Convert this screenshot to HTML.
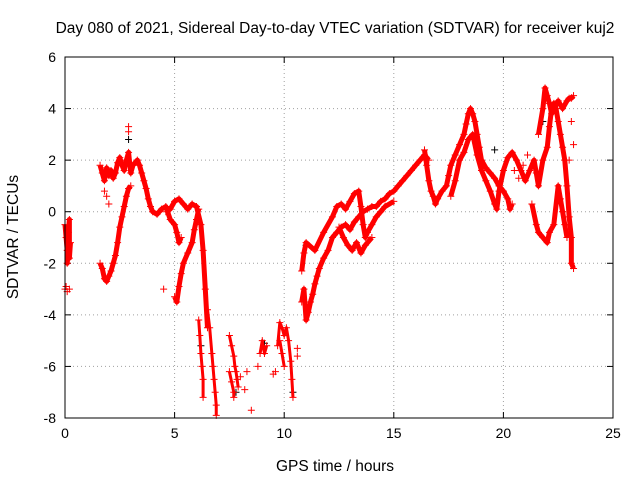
<!DOCTYPE html>
<html><head><meta charset="utf-8"><style>
body{margin:0;background:#fff;}
svg{display:block;font-family:"Liberation Sans",sans-serif;}
</style></head><body>
<svg id="chart" width="640" height="480">
<text x="335" y="33" font-size="15.5" text-anchor="middle">Day 080 of 2021, Sidereal Day-to-day VTEC variation (SDTVAR) for receiver kuj2</text>
<text x="335" y="471" font-size="15.5" text-anchor="middle">GPS time / hours</text>
<text transform="translate(18,237) rotate(-90)" font-size="15.5" text-anchor="middle">SDTVAR / TECUs</text>
<g id="grid"></g><g id="ticks"></g><g id="marks"></g>
<rect x="65" y="57" width="548" height="361" fill="none" stroke="#000" stroke-width="1"/>
</svg>
<script>
const xTicks=[0,5,10,15,20,25];
const yTicks=[6,4,2,0,-2,-4,-6,-8];
const trackA=[[0,-0.5],[0.05,-1],[0.1,-1.5],[0.1,-2],[0.15,-0.8],[0.2,-0.3],[0.2,-1.8],[0.25,-1.2]];
const trackA2=[[0,-3],[0.05,-2.9],[0.1,-3.1],[0.2,-3.0]];
const trackB=[[1.6,1.8],[1.7,1.5],[1.8,1.2],[1.9,1.7],[2.0,1.4],[2.1,1.6],[2.2,1.3],[2.3,1.5],[2.4,1.9],[2.5,2.1],[2.6,1.8],[2.7,1.6],[2.8,2.0],[2.9,2.3],[3.0,1.5],[3.1,1.8],[3.3,2.0],[3.4,1.8],[3.5,1.5],[3.6,1.2],[3.7,0.9],[3.8,0.5],[3.9,0.2],[4.0,0],[4.2,-0.1],[4.4,0.1],[4.6,0.2],[4.8,-0.3],[5.0,-0.5],[5.1,-0.8],[5.2,-1.2],[5.3,-1.0]];
const trackB2=[[1.8,0.8],[1.9,0.6],[2.0,0.3],[2.9,3.1],[2.9,3.3],[4.5,-3.0]];
const trackC=[[1.6,-2.0],[1.7,-2.2],[1.8,-2.6],[1.9,-2.7],[2.0,-2.5],[2.1,-2.3],[2.2,-2.0],[2.3,-1.7],[2.4,-1.2],[2.5,-0.6],[2.6,-0.2],[2.7,0.2],[2.8,0.6],[2.9,0.9],[3.0,1.0]];
const trackD=[[4.6,0],[4.8,0.1],[5.0,0.4],[5.2,0.5],[5.4,0.3],[5.6,0.1],[5.8,0.3],[6.0,0.2],[6.2,-0.5],[6.3,-1.5],[6.4,-3],[6.5,-4.5]];
const trackE=[[5.0,-3.3],[5.1,-3.5],[5.2,-2.9],[5.3,-2.4],[5.4,-2.0],[5.6,-1.6],[5.8,-1.2],[5.9,-0.7],[6.0,-0.3],[6.1,0.1]];
const trackF1=[[6.1,-4.2],[6.15,-4.8],[6.2,-5.5],[6.25,-6.0],[6.3,-6.5],[6.3,-7.2]];
const trackF2=[[6.5,-3.8],[6.6,-4.5],[6.7,-5.5],[6.75,-6.0],[6.8,-6.5],[6.85,-7.0],[6.9,-7.5],[6.9,-7.9]];
const trackG1=[[7.5,-4.8],[7.6,-5.2],[7.7,-5.6],[7.75,-6.0],[7.8,-6.2],[7.85,-6.5],[7.9,-6.8]];
const trackG2=[[7.5,-6.2],[7.6,-6.6],[7.7,-7.0],[7.7,-7.2]];
const trackG=[[8.0,-6.4],[8.2,-6.9],[8.3,-6.2],[8.5,-7.7],[8.8,-6.0],[9.5,-6.3],[9.6,-6.2],[10.6,-5.3],[10.6,-5.6]];
const trackG3=[[8.9,-5.5],[9.0,-5.0],[9.1,-5.5],[9.2,-5.2]];
const trackG4=[[9.7,-5.2],[9.8,-4.3],[9.9,-4.5],[10.0,-4.8],[10.1,-4.5],[10.2,-5.0],[10.3,-5.8],[10.35,-6.5],[10.4,-7.2]];
const trackG5=[[9.8,-5.0],[9.9,-5.5],[10.0,-6.0]];
const trackH=[[10.8,-3.5],[10.9,-3.0],[11.0,-4.2],[11.1,-3.9],[11.2,-3.5],[11.3,-3.2],[11.4,-2.8],[11.5,-2.5],[11.6,-2.2],[11.8,-1.8],[12.0,-1.5],[12.2,-1.0],[12.4,-0.8],[12.6,-0.6],[12.8,-0.5],[13.0,-0.7],[13.2,-0.4],[13.4,-0.2],[13.6,0],[13.8,0.1],[14.0,0.2],[14.2,0.2],[14.4,0.4],[14.6,0.5],[14.8,0.7],[15.0,0.8],[15.2,1.0],[15.4,1.2],[15.6,1.4],[15.8,1.6],[16.0,1.8],[16.2,2.0],[16.4,2.2],[16.6,2.0]];
const trackI=[[10.8,-2.3],[10.9,-1.6],[11.0,-1.2],[11.4,-1.5],[11.8,-0.8],[12.2,-0.2],[12.4,0.2],[12.6,0.3],[12.8,0.1],[13.0,0.4],[13.2,0.7],[13.4,0.8],[13.5,0.2],[13.6,-0.5],[13.7,-1.0],[13.8,-0.8],[14.0,-0.5],[14.2,-0.2],[14.4,0],[14.6,0.2],[15.0,0.4]];
const trackJ=[[12.5,-0.6],[12.7,-1.0],[12.9,-1.3],[13.1,-1.5],[13.3,-1.2],[13.5,-1.6],[13.7,-1.3],[14.0,-1.0]];
const trackK=[[16.4,2.4],[16.5,1.8],[16.6,1.2],[16.7,0.8],[16.8,0.6],[16.9,0.3],[17.0,0.5],[17.2,0.8],[17.4,1.0],[17.5,1.4],[17.6,1.8],[17.8,2.2],[18.0,2.6],[18.2,3.0],[18.3,3.4],[18.4,3.8],[18.5,4.0],[18.6,3.8],[18.7,3.5],[18.8,3.0],[18.9,2.5],[19.0,2.0],[19.2,1.7],[19.4,1.5],[19.6,1.3],[19.8,1.0],[20.0,0.8],[20.2,0.5],[20.3,0.1],[20.4,0.3]];
const trackL=[[17.6,0.6],[17.8,1.2],[18.0,2.0],[18.2,2.3],[18.4,2.8],[18.6,3.0],[18.8,2.2],[19.0,1.6],[19.2,1.2],[19.4,0.8],[19.6,0.3],[19.7,0.1],[19.8,0.8],[20.0,1.6],[20.2,2.1],[20.4,2.3],[20.6,2.0],[20.8,1.6],[21.0,1.2],[21.2,1.6],[21.4,2.0],[21.5,1.5],[21.6,1.0],[21.8,2.0],[22.0,2.5],[22.1,3.3],[22.2,4.0],[22.3,4.2],[22.4,4.0],[22.5,3.5],[22.6,3.0],[22.7,2.5],[22.8,2.0],[22.9,1.0],[23.0,-0.2],[23.1,-1.0],[23.1,-2.0],[23.2,-2.2]];
const trackM=[[21.6,3.0],[21.8,4.0],[21.9,4.8],[22.0,4.5],[22.1,4.2],[22.2,3.8],[22.5,4.3],[22.7,4.0],[22.9,4.3],[23.0,4.4],[23.1,4.4],[23.2,4.5]];
const trackN=[[21.3,0.3],[21.5,-0.5],[21.6,-0.8],[21.8,-1.0],[22.0,-1.2],[22.1,-0.8],[22.3,-0.5],[22.5,1.0],[22.6,0.5],[22.7,0],[22.8,-0.5],[22.9,-1.0]];
const trackO=[[20.5,1.6],[20.7,1.3],[20.9,1.8],[21.1,2.2],[23.1,3.5],[23.2,2.6],[23.0,2.0]];
const blackPts=[[2.9,2.8],[6.2,-5.2],[7.8,-7.0],[9.1,-5.1],[10.4,-7.0],[11.0,-1.3],[19.6,2.4],[21.8,3.5]];
const X0=65,X1=613,Y0=418,Y1=57;
function sx(v){return X0+(v-0)/(25-0)*(X1-X0);}
function sy(v){return Y0-(v-(-8))/(6-(-8))*(Y0-Y1);}
const NS="http://www.w3.org/2000/svg";
const grid=document.getElementById('grid'),ticks=document.getElementById('ticks'),marks=document.getElementById('marks');
function mk(tag,attrs,parent){const e=document.createElementNS(NS,tag);for(const k in attrs)e.setAttribute(k,attrs[k]);parent.appendChild(e);return e;}
xTicks.forEach(t=>{const x=sx(t);
 if(t>0&&t<25){const g=mk('line',{x1:x,x2:x,y1:Y1,y2:Y0,stroke:'#a0a0a0','stroke-dasharray':'1,3'},grid);
 
 }
 const l=mk('text',{x:x,y:Y0+20,'font-size':14,'text-anchor':'middle'},ticks);l.textContent=t;
 
 
 mk('line',{x1:x,x2:x,y1:Y0,y2:Y0-6,stroke:'#000'},ticks);mk('line',{x1:x,x2:x,y1:Y1,y2:Y1+6,stroke:'#000'},ticks);});
yTicks.forEach(t=>{const y=sy(t);
 if(t>-8&&t<6){const g=mk('line',{x1:X0,x2:X1,y1:y,y2:y,stroke:'#a0a0a0','stroke-dasharray':'1,3'},grid);
 
 }
 const l=mk('text',{x:X0-9,y:y+5,'font-size':14,'text-anchor':'end'},ticks);l.textContent=t;
 
 
 mk('line',{x1:X0,x2:X0+6,y1:y,y2:y,stroke:'#000'},ticks);mk('line',{x1:X1,x2:X1-6,y1:y,y2:y,stroke:'#000'},ticks);});
function plus(p,color){const x=sx(p[0]),y=sy(p[1]);
 const e=mk('path',{d:`M${x-3.5},${y}h7M${x},${y-3.5}v7`,stroke:color,'stroke-width':1},marks);
 
 }
function track(arr,line,w){
 if(line){const pl=mk('polyline',{points:arr.map(p=>sx(p[0])+','+sy(p[1])).join(' '),fill:'none',stroke:'#f00','stroke-width':w||5,'stroke-linejoin':'round'},marks);
 
 }
 arr.forEach(p=>plus(p,'#f00'));}
blackPts.forEach(p=>plus(p,'#000'));
track(trackA,true);track(trackA2,false);track(trackB,true);track(trackB2,false);track(trackC,true);
track(trackD,true);track(trackE,true);track(trackF1,true,3);track(trackF2,true,3);
track(trackG1,true,3);track(trackG2,true,3);track(trackG,false);track(trackG3,true,3);track(trackG4,true,3);track(trackG5,true,3);
track(trackH,true);
track(trackI,true);track(trackJ,true);track(trackK,true);track(trackL,true);track(trackM,true);
track(trackN,true);track(trackO,false);
</script>
</body></html>
